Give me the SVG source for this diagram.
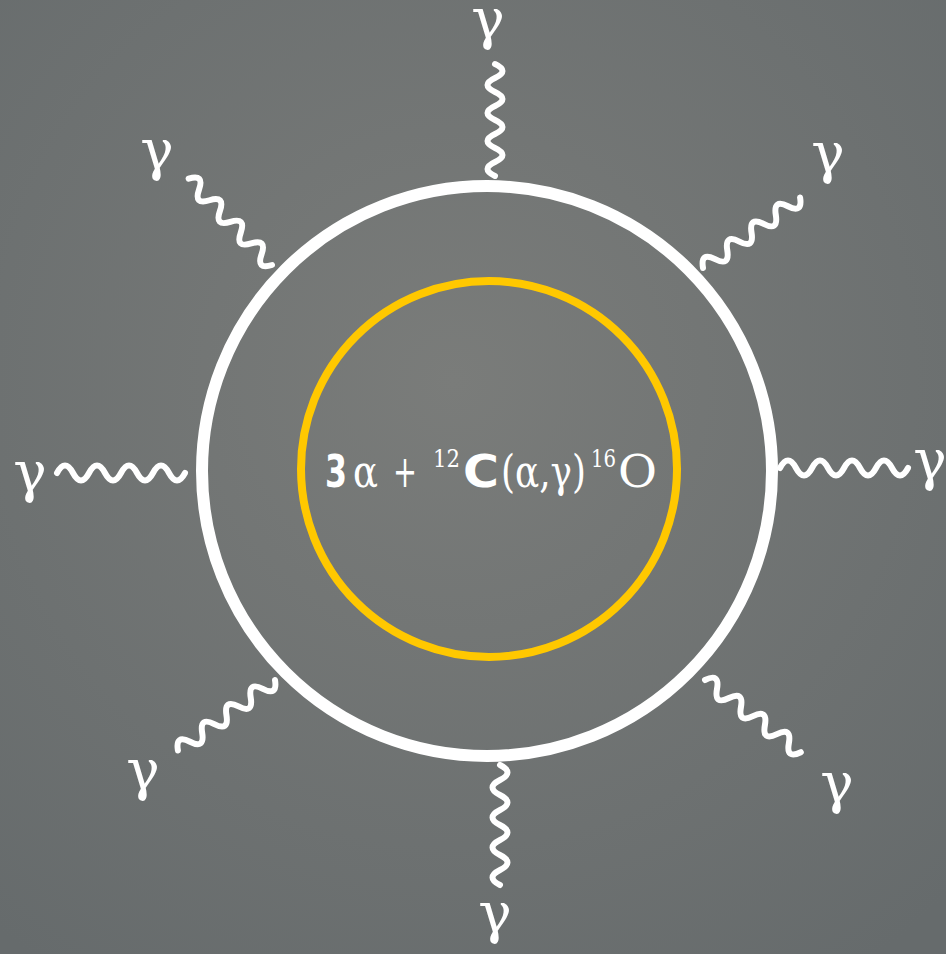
<svg xmlns="http://www.w3.org/2000/svg" xmlns:xlink="http://www.w3.org/1999/xlink" width="946" height="954" viewBox="0 0 946 954">
<style>
.wave{fill:none;stroke:#ffffff;stroke-width:6;stroke-linecap:round;stroke-linejoin:round}
.gamma{font-family:"DejaVu Serif","Liberation Serif",serif;font-size:56px;fill:#ffffff;text-anchor:middle}
.eq{font-family:"DejaVu Serif","Liberation Serif",serif;font-size:44px;fill:#ffffff}
.bs{font-family:"DejaVu Sans","Liberation Sans",sans-serif;font-weight:bold}
.sup{font-size:24px}
</style>
<defs>
<radialGradient id="bg" cx="0.48" cy="0.4" r="0.75">
<stop offset="0" stop-color="#7a7c7a"/>
<stop offset="1" stop-color="#666b6c"/>
</radialGradient>
<path id="w112" d="M0 0 q7 -15 14 0 t14 0 t14 0 t14 0 t14 0 t14 0 t14 0 t14 0"/>
<path id="w120" d="M0 0 q7.5 -15 15 0 t15 0 t15 0 t15 0 t15 0 t15 0 t15 0 t15 0"/>
<path id="w128" d="M0 0 q8 -15 16 0 t16 0 t16 0 t16 0 t16 0 t16 0 t16 0 t16 0"/>
</defs>
<rect width="946" height="954" fill="url(#bg)"/>
<g id="connectors" class="wave">
<use xlink:href="#w112" transform="translate(495,176) rotate(-90)"/>
<use xlink:href="#w120" transform="translate(500,765) rotate(90)"/>
<use xlink:href="#w128" transform="translate(185,473) rotate(180)"/>
<use xlink:href="#w128" transform="translate(780,468)"/>
<use xlink:href="#w120" transform="translate(272,265) rotate(-134)"/>
<use xlink:href="#w120" transform="translate(703,268) rotate(-36)"/>
<use xlink:href="#w120" transform="translate(275,680) rotate(144)"/>
<use xlink:href="#w120" transform="translate(705,680) rotate(37)"/>
</g>
<g id="outer-shell">
<circle cx="487" cy="471" r="285" fill="none" stroke="#ffffff" stroke-width="12"/>
</g>
<g id="core">
<circle cx="489" cy="469" r="188" fill="none" stroke="#ffc800" stroke-width="8"/>
<text class="eq" y="487"><tspan class="bs" x="325" textLength="22" lengthAdjust="spacingAndGlyphs">3</tspan><tspan x="353" textLength="25" lengthAdjust="spacingAndGlyphs">α</tspan><tspan x="393" textLength="24" lengthAdjust="spacingAndGlyphs">+</tspan><tspan class="sup" x="433" y="467" textLength="27" lengthAdjust="spacingAndGlyphs">12</tspan><tspan class="bs" x="463" y="487" textLength="36" lengthAdjust="spacingAndGlyphs">C</tspan><tspan x="501" textLength="85" lengthAdjust="spacingAndGlyphs">(α,γ)</tspan><tspan class="sup" x="591" y="467" textLength="25" lengthAdjust="spacingAndGlyphs">16</tspan><tspan x="618" y="487" textLength="39" lengthAdjust="spacingAndGlyphs">O</tspan></text>
</g>
<g id="gamma-top"><text class="gamma" x="488" y="38">γ</text></g>
<g id="gamma-top-left"><text class="gamma" x="157" y="169">γ</text></g>
<g id="gamma-top-right"><text class="gamma" x="828" y="172">γ</text></g>
<g id="gamma-left"><text class="gamma" x="30" y="491">γ</text></g>
<g id="gamma-right"><text class="gamma" x="930" y="479">γ</text></g>
<g id="gamma-bottom-left"><text class="gamma" x="143" y="789">γ</text></g>
<g id="gamma-bottom-right"><text class="gamma" x="837" y="802">γ</text></g>
<g id="gamma-bottom"><text class="gamma" x="495" y="932">γ</text></g>
</svg>
